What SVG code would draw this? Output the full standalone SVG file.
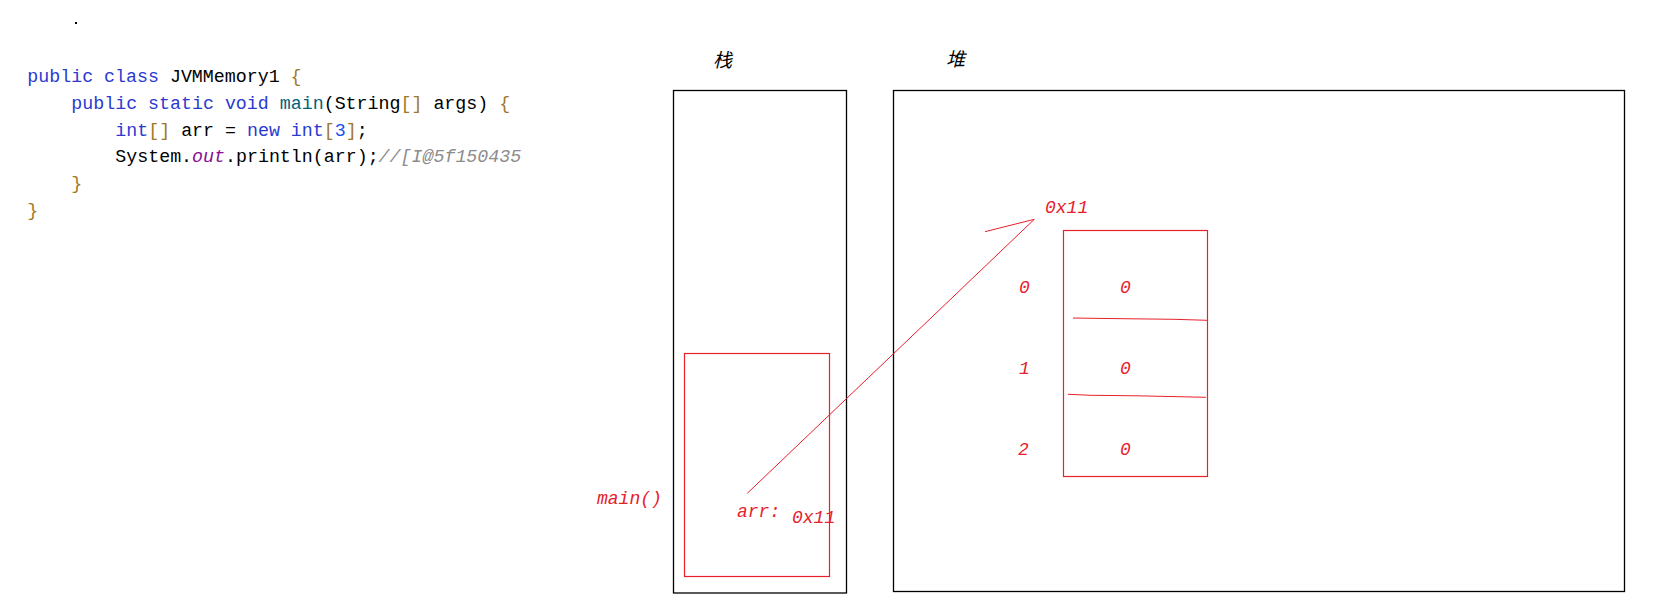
<svg xmlns="http://www.w3.org/2000/svg" width="1658" height="607" viewBox="0 0 1658 607">
<style>
.code{font-family:"Liberation Mono","DejaVu Sans Mono",monospace;font-size:18.3px;fill:#000}
.kw{fill:#2a3ad0}
.fn{fill:#00627a}
.br{fill:#a0782a}
.num{fill:#1750eb}
.fld{fill:#871094;font-style:italic}
.cm{fill:#8c8c8c;font-style:italic}
.box{fill:none;stroke:#000;stroke-width:1.3}
.rbox{fill:none;stroke:#e8202a;stroke-width:1.2}
.rl{fill:none;stroke:#e8202a;stroke-width:1}
.rt{font-family:"Liberation Mono","DejaVu Sans Mono",monospace;font-style:italic;font-size:18px;fill:#e8202a}
.cjk{font-family:"Noto Sans CJK SC","Noto Sans CJK JP",sans-serif;font-style:italic;font-size:19px;fill:#000}
</style>
<rect width="1658" height="607" fill="#fff"/>
<g id="code">
<rect x="75" y="22" width="2" height="2" fill="#000"/>
<text class="code" x="27.3" y="82"><tspan class="kw">public class</tspan> JVMMemory1 <tspan class="br">{</tspan></text>
<text class="code" x="71.3" y="108.5"><tspan class="kw">public static void</tspan> <tspan class="fn">main</tspan>(String<tspan class="br">[]</tspan> args) <tspan class="br">{</tspan></text>
<text class="code" x="115.3" y="135.5"><tspan class="kw">int</tspan><tspan class="br">[]</tspan> arr = <tspan class="kw">new int</tspan><tspan class="br">[</tspan><tspan class="num">3</tspan><tspan class="br">]</tspan>;</text>
<text class="code" x="115.3" y="162.3">System.<tspan class="fld">out</tspan>.println(arr);<tspan class="cm">//[I@5f150435</tspan></text>
<text class="code br" x="71.3" y="189">}</text>
<text class="code br" x="27.3" y="215.5">}</text>
</g>
<g id="stack">
<text class="cjk" x="713" y="67">栈</text>
<rect class="box" x="673.5" y="90.5" width="173" height="502.5"/>
</g>
<g id="heap">
<text class="cjk" x="946" y="66">堆</text>
<rect class="box" x="893.5" y="90.5" width="731" height="501"/>
</g>
<g id="main-frame">
<rect class="rbox" x="684.5" y="353.5" width="145" height="223"/>
<text class="rt" x="597" y="504">main()</text>
<text class="rt" x="737" y="517">arr:</text>
<text class="rt" x="792" y="523">0x11</text>
</g>
<g id="array">
<text class="rt" x="1045" y="213">0x11</text>
<rect class="rbox" x="1063.5" y="230.5" width="144" height="246"/>
<polyline class="rl" points="1073,318 1107,318.5 1174,319.3 1207,320.3"/>
<polyline class="rl" points="1068,394.3 1091,395.3 1137,395.8 1183,396.8 1206,397.3"/>
<text class="rt" x="1019" y="292.5">0</text>
<text class="rt" x="1019" y="374">1</text>
<text class="rt" x="1018" y="455">2</text>
<text class="rt" x="1120" y="292.5">0</text>
<text class="rt" x="1120" y="374">0</text>
<text class="rt" x="1120" y="455">0</text>
</g>
<g id="connectors">
<line class="rl" x1="747.3" y1="493.3" x2="1034.3" y2="219.3"/>
<line class="rl" x1="985" y1="231.7" x2="1034.3" y2="219.3"/>
</g>
</svg>
